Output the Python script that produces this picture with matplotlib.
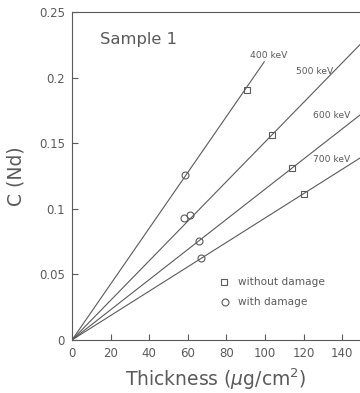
import matplotlib.pyplot as plt
import numpy as np

# energie-sorozatok
energies = ["400 keV", "500 keV", "600 keV", "700 keV"]
slopes = [0.00213, 0.00151, 0.00115, 0.00093]
line_end = [99.6, 150, 150, 150]

# meresi pontok
sq_x = [90.5, 103.8, 114.1, 120.2]
sq_y = [0.191, 0.1564, 0.1308, 0.111]
circ_x = [58.5, 58.0, 61.1, 65.8, 66.7]
circ_y = [0.1256, 0.0928, 0.0954, 0.0756, 0.0628]

xticks = [0, 20, 40, 60, 80, 100, 120, 140]
yticks = [0, 0.05, 0.1, 0.15, 0.2, 0.25]
ylabels = ["0", "0.05", "0.1", "0.15", "0.2", "0.25"]

gray = "#5a5a5a"
plt.rcParams['font.family'] = ['DejaVu Sans']

fig = plt.figure(figsize=(3.6, 3.93), dpi=100)
ax = fig.add_axes([0.2, 0.135, 0.8, 0.834])

for s, xe in zip(slopes, line_end):
    xs = np.array([0, xe])
    ax.plot(xs, s * xs, color=gray, lw=0.8)

ax.plot(sq_x, sq_y, ls="none", marker="s", ms=4.5, mfc="none", mec=gray, mew=0.8)
ax.plot(circ_x, circ_y, ls="none", marker="o", ms=5, mfc="none", mec=gray, mew=0.8)

# feliratok a vonalakon
ax.text(92, 0.217, energies[0], fontsize=6.6, color=gray, va="center")
ax.text(116, 0.205, energies[1], fontsize=6.6, color=gray, va="center")
ax.text(124.7, 0.171, energies[2], fontsize=6.6, color=gray, va="center")
ax.text(124.9, 0.138, energies[3], fontsize=6.6, color=gray, va="center")

ax.text(14.5, 0.229, "Sample 1", fontsize=11.8, color=gray, va="center")

# jelmagyarazat
ax.plot([79], [0.0445], ls="none", marker="s", ms=4.5, mfc="none", mec=gray, mew=0.8)
ax.plot([79.5], [0.0292], ls="none", marker="o", ms=5, mfc="none", mec=gray, mew=0.8)
ax.text(86, 0.0445, "without damage", fontsize=7.6, color=gray, va="center")
ax.text(86, 0.0292, "with damage", fontsize=7.6, color=gray, va="center")

ax.set_xlim(0, 149.2)
ax.set_ylim(0, 0.25)
ax.set_xticks(xticks)
ax.set_yticks(yticks)
ax.set_yticklabels(ylabels)
ax.tick_params(direction="in", length=4, width=0.8, colors=gray, labelsize=8.5, pad=5)
ax.spines["right"].set_visible(False)
for sp in ["left", "top", "bottom"]:
    ax.spines[sp].set_color(gray)
    ax.spines[sp].set_linewidth(0.8)

ax.set_xlabel(r"Thickness ($\mu$g/cm$^2$)", fontsize=13.5, color=gray, labelpad=5)
ax.set_ylabel("C (Nd)", fontsize=13.5, color=gray, labelpad=10)

fig.savefig("out.png", dpi=100)
